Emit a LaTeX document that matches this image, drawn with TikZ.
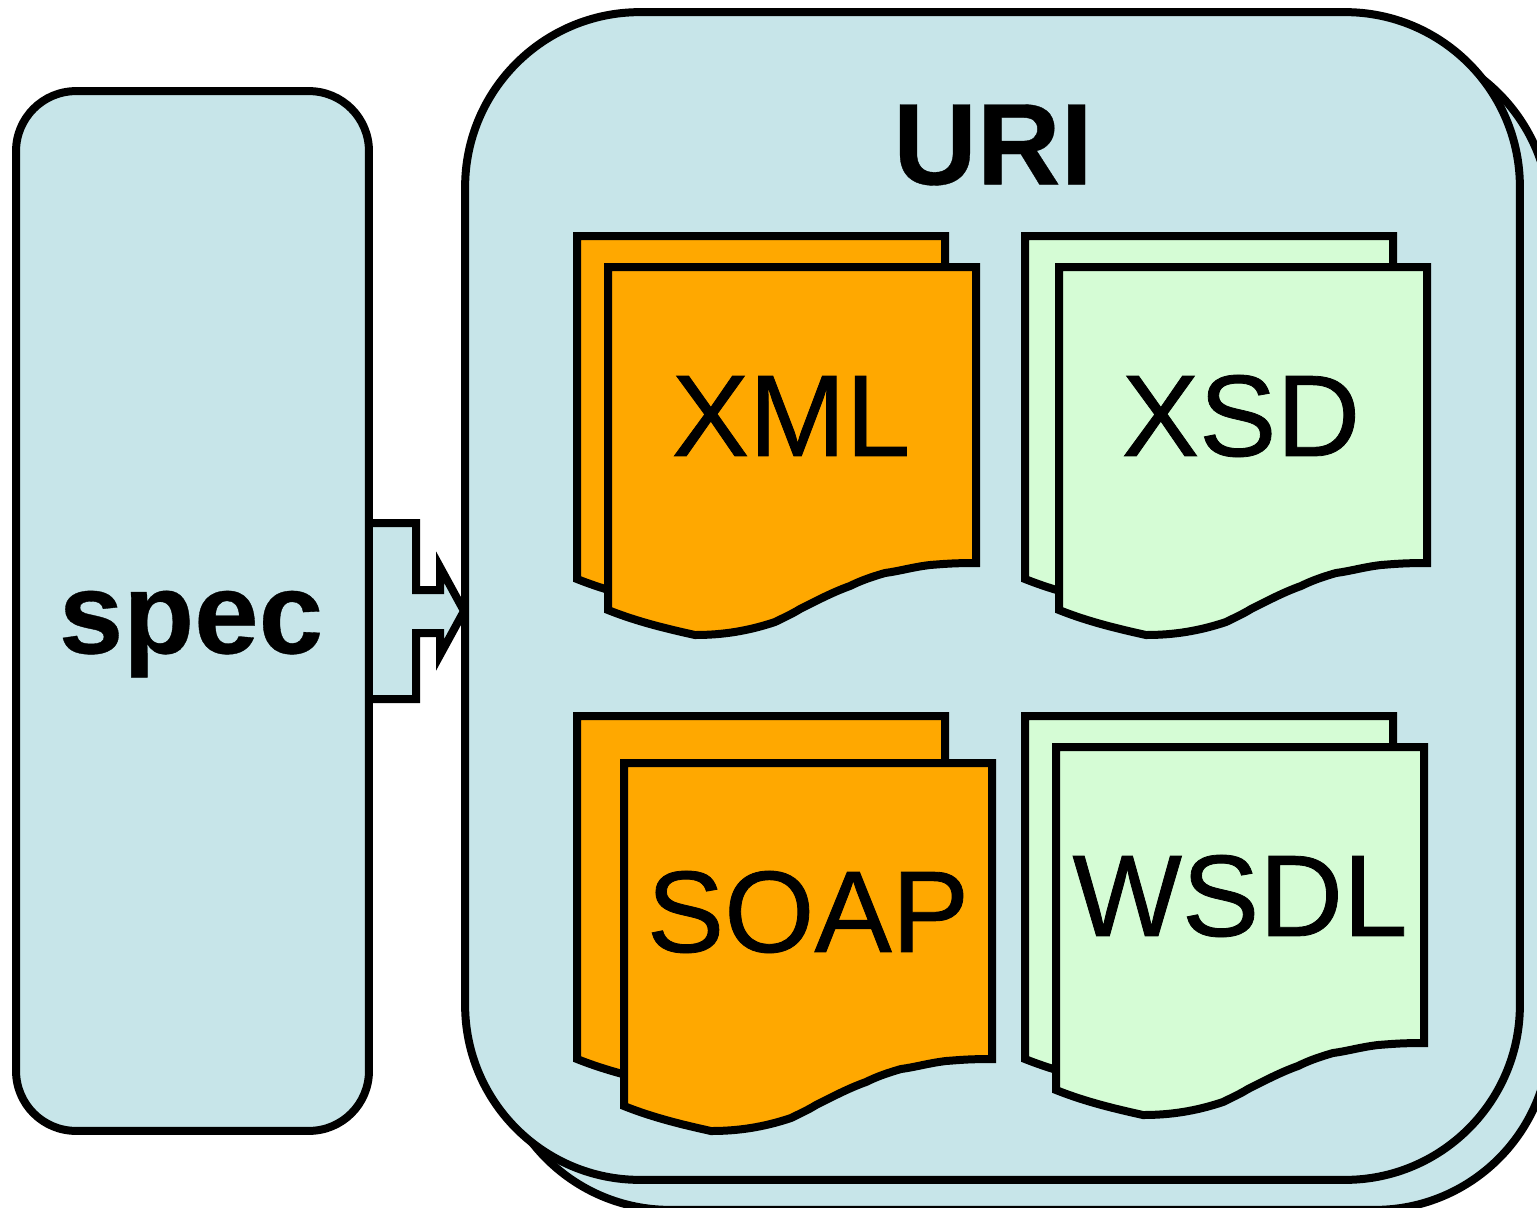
\documentclass[tikz,border=0pt]{standalone}
\usepackage{fontspec}
\setmainfont[UprightFeatures={FakeBold=0.7}, BoldFeatures={FakeBold=0.3}]{Liberation Sans}
\usetikzlibrary{positioning}
\definecolor{panelblue}{HTML}{C7E5E9}
\definecolor{docorange}{HTML}{FFA800}
\definecolor{docgreen}{HTML}{D5FCD5}
\tikzset{
    panel/.style={draw, fill=panelblue, inner sep=0pt},
    label/.style={inner sep=0pt, font=\fontsize{66}{70}\selectfont},
    boldlabel/.style={inner sep=0pt, font=\fontsize{66}{70}\selectfont\bfseries},
    sheet/.pic={
        \path[pic actions] (0,0) -- (368,0) -- (368,296)
            .. controls (345,296) and (335,297) .. (322,298)
            .. controls (305,300) and (292,304) .. (277,306)
            .. controls (263,310) and (252,314) .. (242,319)
            .. controls (225,325) and (208,334) .. (192,342)
            .. controls (184,347) and (175,351) .. (167,355)
            .. controls (140,364) and (115,368) .. (87,368)
            .. controls (60,362) and (30,355) .. (0,343) -- cycle;
    }
}
\begin{document}
\begin{tikzpicture}[x=0.02cm, y=-0.02cm, line width=0.16cm, miter limit=10]
    \clip (0,0) rectangle (1537,1207);
    % panels
    \node[panel, minimum width=21.1cm, minimum height=23.36cm, rounded corners=3.5cm] (uriback) at (1022.5,626) {};
    \node[panel, minimum width=21.1cm, minimum height=23.36cm, rounded corners=3.5cm] (uri) at (992.5,596) {};
    % arrow
    \path[fill=panelblue] (369,523) -- (416,523) -- (416,590) -- (440,590) -- (440,567) -- (464,611)
        -- (440,655) -- (440,633) -- (416,633) -- (416,699) -- (369,699) -- cycle;
    \draw (369,523) -- (416,523) -- (416,590) -- (440,590) -- (440,567) -- (464,611)
        -- (440,655) -- (440,633) -- (416,633) -- (416,699) -- (369,699);
    \node[panel, minimum width=7.06cm, minimum height=20.8cm, rounded corners=1.2cm] (spec) at (192.5,611) {};
    \node[boldlabel] (speclabel) at (191,634) {spec};
    \node[boldlabel] (urilabel) at (993,145) {URI};
    % documents
    \foreach \bx/\by/\fx/\fy/\col in {577/236/608/267/docorange, 1025/236/1059/267/docgreen,
        577/716/624/763/docorange, 1025/716/1056/747/docgreen}{
        \pic[draw, fill=\col] at (\bx,\by) {sheet};
        \pic[draw, fill=\col] at (\fx,\fy) {sheet};
    }
    \node[label] (xml) at (791,416) {XML};
    \node[label] (xsd) at (1241,416) {XSD};
    \node[label] (soap) at (808,912) {SOAP};
    \node[label] (wsdl) at (1240,896) {WSDL};
\end{tikzpicture}
\end{document}
